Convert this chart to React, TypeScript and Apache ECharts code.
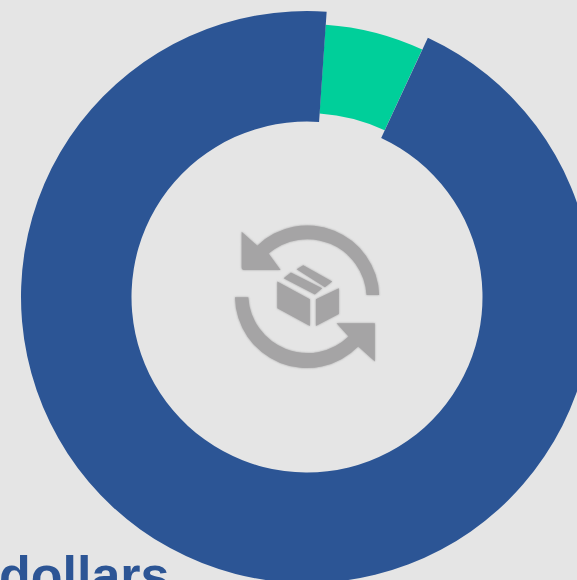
import React, { useEffect, useRef } from "react";
import * as echarts from "echarts";

const shareNames = ["Main share", "Highlighted share"];
const shareValues = [94.15, 5.85];
const captionText = "dollars";
const colors = { bg: "#e5e5e5", blue: "#2c5595", green: "#00cf9a", icon: "#a5a4a5" };

const iconPath =
  "M65 65 L112 107 A216 216 0 0 1 478 255 L440 255 A178 178 0 0 0 146 131 L182 180 L72 180 Q65 180 65 172 Z " +
  "M45 262 L85 262 A178 178 0 0 0 386 380 L350 340 L465 340 L465 455 L415 410 A216 216 0 0 1 45 262 Z " +
  "M172 215 L270 268 L270 348 L172 295 Z " +
  "M288 268 L357 235 L357 312 L288 348 Z " +
  "M191 205 L213 188 L307 235 L285 254 Z " +
  "M230 178 L250 166 L337 215 L315 232 Z";

echarts.graphic.registerShape("returnsIcon", echarts.graphic.extendPath(iconPath, {}));

export default function App() {
  const ref = useRef<HTMLDivElement>(null);
  useEffect(() => {
    document.body.style.margin = "0";
    const chart = echarts.init(ref.current!, null, { renderer: "svg" });
    const center = [307, 297];
    chart.setOption({
      animation: false,
      backgroundColor: colors.bg,
      series: [
        {
          type: "pie",
          silent: true,
          center,
          radius: [184, 273],
          startAngle: 86.1,
          clockwise: true,
          label: { show: false },
          labelLine: { show: false },
          data: [
            { name: shareNames[1], value: shareValues[1], itemStyle: { color: colors.green } },
            { name: "rest", value: shareValues[0], itemStyle: { color: "transparent" } },
          ],
        },
        {
          type: "pie",
          silent: true,
          center,
          radius: [175.5, 286],
          startAngle: 65,
          clockwise: true,
          label: { show: false },
          labelLine: { show: false },
          data: [
            { name: shareNames[0], value: shareValues[0], itemStyle: { color: colors.blue } },
            { name: "gap", value: shareValues[1], itemStyle: { color: "transparent" } },
          ],
        },
      ],
      graphic: [
        {
          type: "returnsIcon",
          x: 220,
          y: 210,
          scaleX: 1 / 3,
          scaleY: 1 / 3,
          style: { fill: colors.icon, shadowBlur: 2, shadowColor: colors.icon },
        },
        {
          type: "text",
          x: -1,
          y: 549,
          style: {
            text: captionText,
            fill: colors.blue,
            font: 'bold 52px "Liberation Sans", Arial, sans-serif',
          },
        },
      ],
    });
    return () => chart.dispose();
  }, []);
  return <div ref={ref} style={{ width: 577, height: 580, overflow: "hidden" }} />;
}
